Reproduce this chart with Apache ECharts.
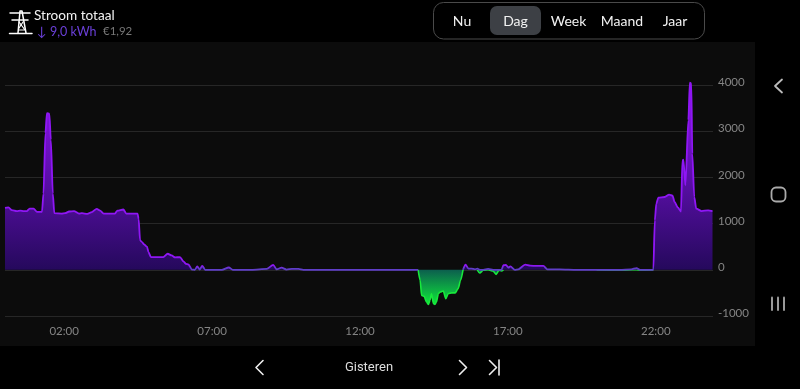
<!DOCTYPE html>
<html>
<head>
<meta charset="utf-8">
<style>html,body{margin:0;padding:0;background:#000}#c{width:800px;height:389px}</style>
<script src="https://cdn.jsdelivr.net/npm/echarts@6/dist/echarts.min.js"></script>
</head>
<body>
<div id="c"></div>
<script>
// minutes since midnight
const minutes = [0,7,14,24,31,38,44,50,58,65,75,78,82,85,90,93,97,100,115,122,130,140,150,156,167,176,186,193,200,223,228,240,246,269,271,274,278,282,288,291,296,321,330,338,345,355,362,367,372,379,385,390,395,400,406,
 440,454,462,500,531,544,551,561,571,582,595,605,650,700,760,810,838,842,845,850,855,859,862,865,869,872,875,879,883,889,894,899,906,913,919,924,929,934,940,946,953,958,963,970,980,990,996,1002,1007,1011,1016,1021,1025,1034,1041,1055,1065,1078,1092,1100,1125,1160,1200,1247,1270,1281,1288,1315,1318,1321,1325,1338,1347,1354,1358,1365,1371,1374,1376,1380,1386,1389,1392,1394,1398,1402,1413,1426,1435];
// net power in watts: positive = drawn from the grid, negative = returned
const watts = [1340,1350,1290,1268,1280,1268,1268,1325,1325,1255,1255,1650,2960,3390,3380,2810,1650,1225,1218,1225,1262,1270,1218,1225,1210,1250,1320,1280,1218,1218,1280,1305,1218,1218,1100,636,600,550,500,383,275,275,347,311,268,275,181,130,116,7,0,72,7,87,0,
 0,50,0,0,20,108,10,45,5,20,20,0,0,0,0,0,0,-228,-553,-575,-698,-748,-660,-517,-734,-748,-698,-517,-480,-460,-625,-517,-500,-500,-408,-228,0,112,25,25,10,25,-69,-10,18,-25,-98,-10,-25,98,105,47,76,0,10,112,90,83,83,10,10,0,0,-5,10,36,-5,0,1070,1431,1561,1576,1627,1605,1468,1345,1258,2371,2386,1829,3239,4049,4034,2516,1576,1323,1272,1287,1272];
const xTickValues = [120,420,720,1020,1320];
const yInterval = 1000;
const yMin = -1000;
const yMax = 4000;
const tabs = ['Nu','Dag','Week','Maand','Jaar'];
const tabCentres = [462,515.5,568.5,622,675];

const pad = n => String(n).padStart(2,'0');
const purpleData = minutes.map((m,i)=>[m, watts[i] < -150 ? null : Math.max(watts[i],0)]);
// the green trace only appears around stretches that are below zero
const greenData  = minutes.map((m,i)=>{
  const near = watts[i] < 0 || watts[i-1] < 0 || watts[i+1] < 0;
  return [m, near ? Math.min(watts[i],0) : null];
});

const font = 'Lato';
const T = (x,y,text,size,fill,align,extra) => ({type:'text',x,y,silent:true,z:5,style:Object.assign({text,fontSize:size,fontFamily:font,fill,align:align||'left',verticalAlign:'middle'},extra||{})});
const L = (pts,stroke,w) => ({type:'polyline',silent:true,z:5,shape:{points:pts},style:{stroke,lineWidth:w||1.6,fill:null,lineCap:'round',lineJoin:'round'}});

const graphics = [
  {type:'rect',silent:true,z:-1,shape:{x:0,y:42,width:755,height:304},style:{fill:'#0c0c0c'}},
  // tower icon
  L([[10,13],[30,13]],'#fff',1.5), L([[12,20],[28,20]],'#fff',1.5), L([[9.5,33.5],[32,33.5]],'#fff',1.5),
  L([[18,33],[20,11],[22,11],[26,33]],'#fff',1.5), L([[19,22],[25,30],[18.5,30]],'#fff',1.2), L([[23,22],[19,28]],'#fff',1.2),
  T(34,15.5,'Stroom totaal',13.6,'#f2f2f2'),
  T(37,31.5,'↓',13,'#6a3fd8'),
  T(50,31.5,'9,0 kWh',12.5,'#6a3fd8'),
  T(103,31.5,'€1,92',11.5,'#777777'),
  {type:'rect',silent:true,z:5,shape:{x:433.5,y:2.5,width:271,height:36.5,r:10},style:{fill:'none',stroke:'#4a4a4a',lineWidth:1}},
  {type:'rect',silent:true,z:5,shape:{x:490,y:6,width:51,height:29,r:7},style:{fill:'#3d4045'}},
  ...tabs.map((t,i)=>Object.assign(T(tabCentres[i],21.5,t,14,'#f2f2f2','center'),{z:6})),
  // bottom navigation
  L([[263,360.5],[256,367.5],[263,374.5]],'#eeeeee',1.6),
  T(369,368,'Gisteren',13,'#dddddd','center',{fontFamily:'Roboto'}),
  L([[459.5,360.5],[466.5,367.5],[459.5,374.5]],'#eeeeee',1.6),
  L([[489.5,360.5],[496.5,367.5],[489.5,374.5]],'#eeeeee',1.6),
  L([[499,360],[499,375]],'#eeeeee',1.6),
  // system navigation
  L([[782,79.5],[775,86],[782,92.5]],'#bbbbbb',1.8),
  {type:'rect',silent:true,z:5,shape:{x:771.5,y:187.5,width:14,height:14,r:4.5},style:{fill:'none',stroke:'#aaaaaa',lineWidth:1.8}},
  L([[772,297.5],[772,310]],'#999999',2), L([[778,297.5],[778,310]],'#999999',2), L([[784,297.5],[784,310]],'#999999',2)
];

const chart = echarts.init(document.getElementById('c'));
chart.setOption({
  animation:false,
  backgroundColor:'#000',
  textStyle:{fontFamily:font},
  grid:{left:5,right:87,top:85,bottom:73,containLabel:false},
  xAxis:{type:'value',min:0,max:1436,
    axisLine:{show:false},axisTick:{show:false},splitLine:{show:false},
    axisLabel:{customValues:xTickValues,color:'#858585',fontSize:11.5,margin:9,hideOverlap:false,showMinLabel:true,showMaxLabel:true,
      formatter:v=>pad(Math.floor(v/60))+':'+pad(v%60)}},
  yAxis:{type:'value',position:'right',min:yMin,max:yMax,interval:yInterval,
    axisLine:{show:false},axisTick:{show:false},
    splitLine:{show:true,lineStyle:{color:'#272727',width:1}},
    axisLabel:{color:'#858585',fontSize:11.5,margin:5,verticalAlign:'bottom',lineHeight:5,formatter:v=>String(v)}},
  graphic:{elements:graphics},
  series:[
    {type:'line',name:'Teruglevering',data:greenData,showSymbol:false,clip:false,smooth:0.25,smoothMonotone:'x',z:3,
     lineStyle:{color:'#18e83c',width:1.6},
     areaStyle:{opacity:1,color:new echarts.graphic.LinearGradient(0,0,0,1,[{offset:0,color:'#0c5f4e'},{offset:1,color:'#0fe83a'}])}},
    {type:'line',name:'Verbruik',data:purpleData,showSymbol:false,clip:false,smooth:0.25,smoothMonotone:'x',z:4,
     lineStyle:{width:1.8,color:new echarts.graphic.LinearGradient(0,0,0,389,[{offset:0,color:'#8f16f5'},{offset:0.683,color:'#8f16f5'},{offset:0.69,color:'#5f3ec8'},{offset:1,color:'#5f3ec8'}],true)},
     areaStyle:{opacity:1,color:new echarts.graphic.LinearGradient(0,0,0,1,[{offset:0,color:'#9215f7'},{offset:1,color:'#25095c'}])}}
  ]
});
</script>
</body>
</html>
